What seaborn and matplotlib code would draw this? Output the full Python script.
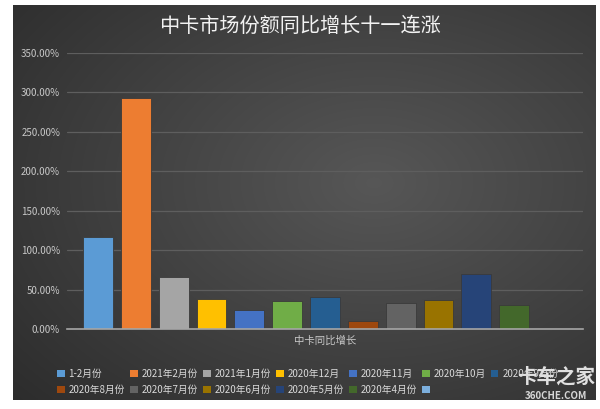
import numpy as np
import pandas as pd
import matplotlib
matplotlib.use("Agg")
import matplotlib.pyplot as plt
import matplotlib.patches as mpatches
import seaborn as sns

# ---- data ----
series = ["1-2月份", "2021年2月份", "2021年1月份", "2020年12月", "2020年11月", "2020年10月",
          "2020年9月份", "2020年8月份", "2020年7月份", "2020年6月份", "2020年5月份", "2020年4月份", " "]
values = [117, 293, 66, 38, 24, 35, 40, 10, 33, 37, 70, 30, np.nan]
colors = ["#5B9BD5", "#ED7D31", "#A5A5A5", "#FFC000", "#4472C4", "#70AD47",
          "#255E91", "#9E480E", "#636363", "#997300", "#264478", "#43682B", "#7CAFDD"]
yticks = [0, 50, 100, 150, 200, 250, 300, 350]
title = "中卡市场份额同比增长十一连涨"
xlabel = "中卡同比增长"

df = pd.DataFrame({"series": series, "value": values})

sns.set_theme(style="dark")
plt.rcParams["font.family"] = ["Noto Sans CJK SC", "DejaVu Sans"]

W, H = 600, 409
fig = plt.figure(figsize=(W / 100, H / 100), dpi=100, facecolor="white")

# dark gradient background panel
bg = fig.add_axes([13 / W, (H - 400) / H, 583 / W, 395 / H])
yy, xx = np.mgrid[0:1:200j, 0:1:300j]
r = np.sqrt(((xx - 0.62) / 0.9) ** 2 + ((yy - 0.45) / 0.9) ** 2)
g = np.clip(0.34 - 0.18 * r, 0.17, 0.34)
bg.imshow(np.dstack([g, g, g]), aspect="auto", extent=[0, 1, 0, 1], interpolation="bilinear")
bg.set_axis_off()

ax = fig.add_axes([67 / W, (H - 329) / H, (583 - 67) / W, (329 - 53) / H])
ax.set_facecolor("none")
sns.barplot(data=df, x="series", y="value", hue="series", order=series, hue_order=series,
            palette=colors, dodge=False, legend=False, width=0.79, ax=ax,
            edgecolor="#3a3a3a", linewidth=0.6, saturation=1)

ax.set_xlim(-0.82, len(series) - 1 + 0.82)
ax.set_ylim(0, 350)
ax.set_yticks(yticks)
ax.set_yticklabels([f"{v:.2f}%" for v in yticks], color="#c8c8c8", fontsize=7)
ax.set_xticks([])
ax.set_ylabel("")
ax.set_xlabel(xlabel, color="#c8c8c8", fontsize=7.5, labelpad=5)
ax.tick_params(axis="y", length=0, pad=5)
ax.grid(axis="y", color="#5e5e5e", linewidth=0.9)
ax.set_axisbelow(True)
for s in ["top", "right", "left"]:
    ax.spines[s].set_visible(False)
ax.spines["bottom"].set_visible(True)
ax.spines["bottom"].set_color("#a6a6a6")
ax.spines["bottom"].set_linewidth(1.2)

fig.text(0.5, 1 - 26 / H, title, ha="center", va="center", color="#f2f2f2", fontsize=14.5)

# legend: row-major order across 7 columns
ncol = 7
order = []
for j in range(ncol):
    order.append(j)
    if j + ncol < len(series):
        order.append(j + ncol)
handles = [mpatches.Patch(facecolor=colors[i], edgecolor="none") for i in order]
labels = [series[i] for i in order]
fig.legend(handles, labels, ncol=ncol, loc="center", bbox_to_anchor=(308 / W, 1 - 382 / H),
           frameon=False, fontsize=7, labelcolor="#d9d9d9", handlelength=0.75, handleheight=0.75,
           handletextpad=0.4, columnspacing=0.55, labelspacing=0.65)

# watermark
fig.text(556 / W, 1 - 377 / H, "卡车之家", ha="center", va="center", color="white",
         fontsize=14, fontweight="bold", alpha=0.85)
fig.text(556 / W, 1 - 396 / H, "360CHE.COM", ha="center", va="center", color="white",
         fontsize=7, fontweight="bold", alpha=0.8)

fig.savefig("out.png", dpi=100, facecolor="white")
